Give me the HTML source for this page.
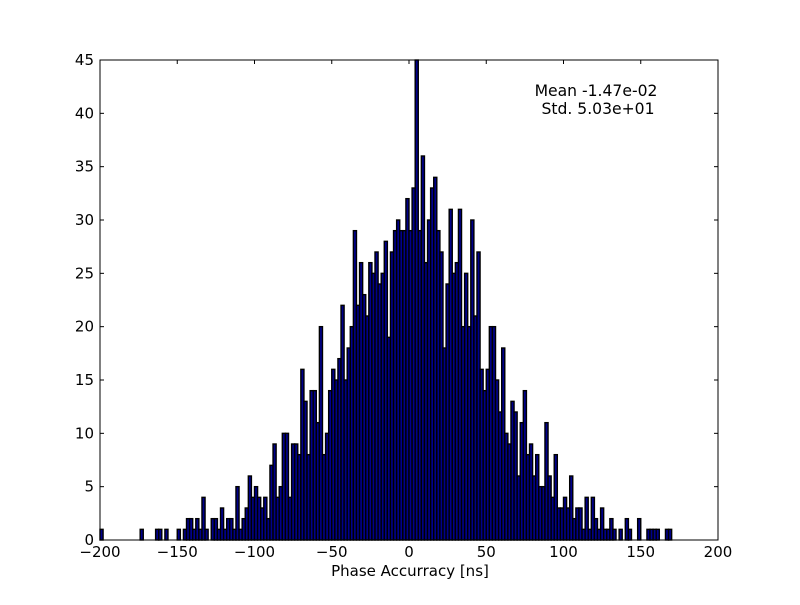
<!DOCTYPE html>
<html><head><meta charset="utf-8"><style>
html,body{margin:0;padding:0;background:#fff;}
svg text{font-family:"DejaVu Sans","Liberation Sans",sans-serif;font-size:15px;fill:#000;}
</style></head><body>
<svg id="chart" width="800" height="600" xmlns="http://www.w3.org/2000/svg">
<rect x="0" y="0" width="800" height="600" fill="#fff"/>
<g id="bars"></g>
<rect x="100" y="60" width="618" height="480" fill="none" stroke="#000" stroke-width="1"/>
<g id="axes"></g>
<text x="596" y="96" text-anchor="middle" style="font-size:15.6px">Mean -1.47e-02</text>
<text x="598" y="114" text-anchor="middle" style="font-size:15.6px">Std. 5.03e+01</text>
<text x="410" y="576" text-anchor="middle">Phase Accurracy [ns]</text>
</svg>
<script>
const binStart = -200;
const binWidth = 2;
const counts = [
1,0,0,0,0,0,0,0,0,0,
0,0,0,1,0,0,0,0,1,1,
0,1,0,0,0,1,0,1,2,2,
1,2,1,4,1,0,2,2,1,3,
1,2,2,1,5,1,2,3,6,4,
5,4,3,4,2,7,9,4,5,10,
10,4,9,9,8,16,13,8,14,14,
11,20,8,10,14,16,15,17,22,15,
18,20,29,22,26,23,21,26,25,27,
24,25,28,19,27,29,30,29,29,32,
29,33,45,29,36,26,30,33,34,29,
27,18,24,31,25,26,31,20,25,20,
30,21,27,16,14,16,20,20,15,12,
18,10,9,13,12,6,11,14,8,9,
6,8,5,5,11,6,4,8,3,3,
4,3,6,2,3,3,1,4,1,4,
2,1,3,1,1,2,1,0,1,0,
2,1,0,0,2,0,0,1,1,1,
1,0,0,1,1,0,0,0,0,0,
0,0,0,0,0,0,0,0,0,0];
const xTicks = [-200,-150,-100,-50,0,50,100,150,200];
const yTicks = [0,5,10,15,20,25,30,35,40,45];
const X0=100,X1=718,Y0=540,Y1=60;
const xs = v => X0 + (v+200)/400*(X1-X0);
const ys = v => Y0 - v/45*(Y0-Y1);
const NS="http://www.w3.org/2000/svg";
const bars=document.getElementById('bars');
counts.forEach((c,i)=>{
  if(c<=0) return;
  const x=xs(binStart+i*binWidth), w=xs(binStart+(i+1)*binWidth)-x;
  const r=document.createElementNS(NS,'rect');
  r.setAttribute('x',x);r.setAttribute('y',ys(c));
  r.setAttribute('width',w);r.setAttribute('height',Y0-ys(c));
  r.setAttribute('fill','#00008c');r.setAttribute('stroke','#000');r.setAttribute('stroke-width','1.4');
  
  
  bars.appendChild(r);
});
const axes=document.getElementById('axes');
function line(x1,y1,x2,y2){const l=document.createElementNS(NS,'line');l.setAttribute('x1',x1);l.setAttribute('y1',y1);l.setAttribute('x2',x2);l.setAttribute('y2',y2);l.setAttribute('stroke','#000');


axes.appendChild(l);}
function text(x,y,s,anchor){const t=document.createElementNS(NS,'text');t.setAttribute('x',x);t.setAttribute('y',y);t.setAttribute('text-anchor',anchor);t.textContent=s;


axes.appendChild(t);}
xTicks.forEach(v=>{const x=xs(v);line(x,Y0,x,Y0-4);line(x,Y1,x,Y1+4);text(x,Y0+17,String(v).replace('-','\u2212'),'middle');});
yTicks.forEach(v=>{const y=ys(v);line(X0,y,X0+4,y);line(X1,y,X1-4,y);text(X0-6,y+5,String(v),'end');});
</script>
</body></html>
